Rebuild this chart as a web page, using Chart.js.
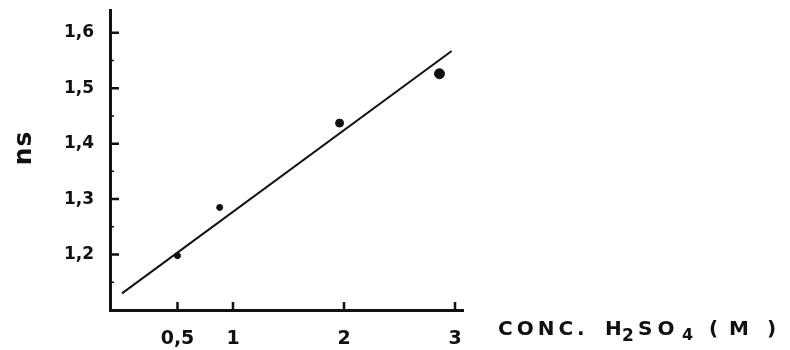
<!DOCTYPE html>
<html>
<head>
<meta charset="utf-8">
<script src="https://cdn.jsdelivr.net/npm/chart.js@4"></script>
<style>
  html, body { margin: 0; padding: 0; background: #fff; }
  #wrap { width: 790px; height: 350px; }
</style>
</head>
<body>
<div id="wrap"><canvas id="nsChart"></canvas></div>
<script>
// measured points (conc. H2SO4 in M, ns)
const concValues = [0.5, 0.88, 1.96, 2.86];
const nsValues = [1.198, 1.285, 1.437, 1.526];
const pointSizes = [3, 3, 4, 5];

const fitConc = [0.0, 2.97];
const fitNs = [1.13, 1.567];

// axis ticks
const xTicks = [0.5, 1, 2, 3];
const xTickLabels = ['0,5', '1', '2', '3'];
const yTicks = [1.2, 1.3, 1.4, 1.5, 1.6];
const yTickLabels = ['1,2', '1,3', '1,4', '1,5', '1,6'];
const yMinorTicks = [1.15, 1.25, 1.35, 1.45, 1.55];

const FONT = '"DejaVu Sans", sans-serif';

/**
 * Inward tick marks and the hand-lettered titles
 */
const decorPlugin = {
  id: 'decor',
  afterDraw(chart) {
    const c = chart.ctx;
    const x = chart.scales.x;
    const y = chart.scales.y;
    const area = chart.chartArea;

    c.save();
    c.strokeStyle = '#111';
    c.lineWidth = 2.5;
    c.beginPath();
    xTicks.forEach(v => {
      const px = x.getPixelForValue(v);
      c.moveTo(px, area.bottom);
      c.lineTo(px, area.bottom - 8);
    });
    yTicks.forEach(v => {
      const py = y.getPixelForValue(v);
      c.moveTo(area.left, py);
      c.lineTo(area.left + 9, py);
    });
    c.stroke();

    c.lineWidth = 1.5;
    c.beginPath();
    yMinorTicks.forEach(v => {
      const py = y.getPixelForValue(v);
      c.moveTo(area.left, py);
      c.lineTo(area.left + 4, py);
    });
    c.stroke();

    // x title with subscripts
    c.fillStyle = '#111';
    c.textBaseline = 'alphabetic';
    c.textAlign = 'left';
    const base = 335;
    const parts = [
      ['CONC.', 498, 0, 20, 4], ['H', 605, 0, 20, 0], ['2', 622, 6, 17, 0],
      ['SO', 638, 0, 20, 5], ['4', 682, 5, 16, 0],
      ['(', 709, 0, 20, 0], ['M', 729, 0, 20, 0], [')', 767, 0, 20, 0]
    ];
    parts.forEach(([txt, px, dy, size, sp]) => {
      c.font = 'bold ' + size + 'px ' + FONT;
      c.letterSpacing = sp + 'px';
      c.fillText(txt, px, base + dy);
    });

    // y title, rotated
    c.translate(31, 148);
    c.rotate(-Math.PI / 2);
    c.font = 'bold 25px ' + FONT;
    c.letterSpacing = '1px';
    c.textAlign = 'center';
    c.fillText('ns', 0, 0);
    c.restore();
  }
};

const ctx = document.getElementById('nsChart').getContext('2d');

new Chart(ctx, {
  data: {
    datasets: [
      {
        type: 'line',
        data: fitConc.map((v, i) => ({ x: v, y: fitNs[i] })),
        borderColor: '#111',
        borderWidth: 2,
        pointRadius: 0,
        fill: false
      },
      {
        type: 'scatter',
        data: concValues.map((v, i) => ({ x: v, y: nsValues[i] })),
        backgroundColor: '#111',
        borderColor: '#111',
        pointRadius: pointSizes,
        showLine: false
      }
    ]
  },
  options: {
    responsive: true,
    maintainAspectRatio: false,
    animation: false,
    layout: { padding: { top: 10, right: 327, left: 0, bottom: 0 } },
    plugins: {
      legend: { display: false },
      tooltip: { enabled: false }
    },
    scales: {
      x: {
        type: 'linear',
        min: -0.108,
        max: 3.072,
        grid: { display: false },
        border: { display: true, color: '#111', width: 3 },
        afterBuildTicks: scale => { scale.ticks = xTicks.map(v => ({ value: v })); },
        afterFit: scale => {
          scale.height = 40;
          scale.paddingLeft = 0;
          scale.paddingRight = 0;
        },
        ticks: {
          padding: 10,
          color: '#111',
          font: { family: FONT, size: 19, weight: 'bold' },
          callback: (v) => xTickLabels[xTicks.indexOf(v)]
        }
      },
      y: {
        type: 'linear',
        min: 1.1,
        max: 1.641,
        grid: { display: false },
        border: { display: true, color: '#111', width: 3 },
        afterBuildTicks: scale => { scale.ticks = yTicks.map(v => ({ value: v })); },
        afterFit: scale => {
          scale.width = 110;
          scale.paddingTop = 0;
          scale.paddingBottom = 0;
        },
        ticks: {
          padding: 8,
          color: '#111',
          font: { family: FONT, size: 17, weight: 'bold' },
          callback: (v) => yTickLabels[yTicks.findIndex(t => Math.abs(t - v) < 1e-6)]
        }
      }
    }
  },
  plugins: [decorPlugin]
});
</script>
</body>
</html>
